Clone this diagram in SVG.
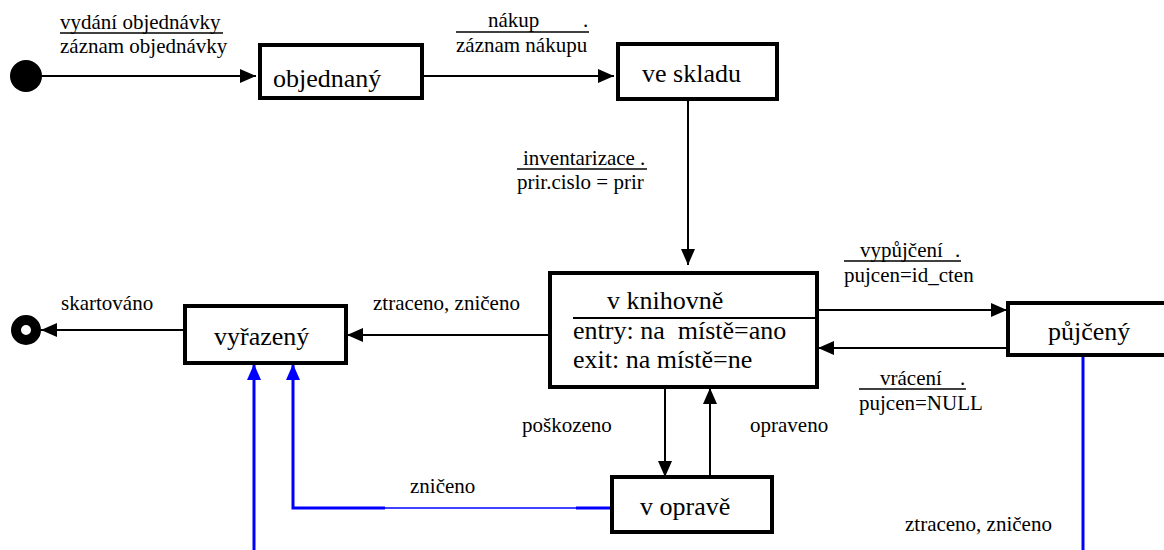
<svg xmlns="http://www.w3.org/2000/svg" width="1164" height="550" viewBox="0 0 1164 550">
  <style>
    .node { font-size: 26px; }
    .lbl { font-size: 21px; }
    .box { fill: #fff; stroke: #000; stroke-width: 4; }
    .edge { fill: none; stroke: #000; stroke-width: 2; }
    .blue { fill: none; stroke: #0000ff; stroke-width: 3; }
    .thin { fill: none; stroke: #0000ff; stroke-width: 1.5; }
    .ul { stroke: #000; stroke-width: 1.5; }
  </style>
  <defs>
    <marker id="arrow" markerUnits="userSpaceOnUse" markerWidth="16" markerHeight="14" refX="16" refY="7" orient="auto">
      <path d="M0,0 L16,7 L0,14 z" fill="#000"/>
    </marker>
    <marker id="arrowBlue" markerUnits="userSpaceOnUse" markerWidth="16" markerHeight="14" refX="16" refY="7" orient="auto">
      <path d="M0,0 L16,7 L0,14 z" fill="#0000ff"/>
    </marker>
  </defs>

  <rect width="1164" height="550" fill="#fff"/>

  <g font-family="'Liberation Serif', 'DejaVu Serif', serif" fill="#000">
  <!-- transitions -->
  <g id="connectors">
    <path class="edge" d="M42,76 H256" marker-end="url(#arrow)"/>
    <path class="edge" d="M422,76 H614" marker-end="url(#arrow)"/>
    <path class="edge" d="M688,99 V265" marker-end="url(#arrow)"/>
    <path class="edge" d="M550,335 H347" marker-end="url(#arrow)"/>
    <path class="edge" d="M185,330 H41" marker-end="url(#arrow)"/>
    <path class="edge" d="M817,310 H1007" marker-end="url(#arrow)"/>
    <path class="edge" d="M1007,348 H818" marker-end="url(#arrow)"/>
    <path class="edge" d="M665,387 V477" marker-end="url(#arrow)"/>
    <path class="edge" d="M710,477 V388" marker-end="url(#arrow)"/>
    <path class="blue" d="M254,550 V364" marker-end="url(#arrowBlue)"/>
    <path class="blue" d="M612,508 H576"/>
    <path class="thin" d="M576,508 H385"/>
    <path class="blue" d="M385,508 H293 V364" marker-end="url(#arrowBlue)"/>
    <path class="blue" d="M1083,355 V550"/>

    <!-- transition labels -->
    <text class="lbl" x="60" y="29">vydání objednávky</text>
    <line class="ul" x1="60" y1="33" x2="223" y2="33"/>
    <text class="lbl" x="60" y="53">záznam objednávky</text>

    <text class="lbl" x="488" y="27">nákup</text>
    <text class="lbl" x="583" y="27">.</text>
    <line class="ul" x1="456" y1="32" x2="589" y2="32"/>
    <text class="lbl" x="456" y="52">záznam nákupu</text>

    <text class="lbl" x="523" y="165">inventarizace</text>
    <text class="lbl" x="640" y="165">.</text>
    <line class="ul" x1="517" y1="169" x2="647" y2="169"/>
    <text class="lbl" x="517" y="189">prir.cislo = prir</text>

    <text class="lbl" x="373" y="310">ztraceno, zničeno</text>
    <text class="lbl" x="61" y="310">skartováno</text>

    <text class="lbl" x="860" y="257">vypůjčení</text>
    <text class="lbl" x="955" y="257">.</text>
    <line class="ul" x1="844" y1="261" x2="961" y2="261"/>
    <text class="lbl" x="844" y="282">pujcen=id_cten</text>

    <text class="lbl" x="880" y="385">vrácení</text>
    <text class="lbl" x="960" y="385">.</text>
    <line class="ul" x1="859" y1="389" x2="966" y2="389"/>
    <text class="lbl" x="859" y="410">pujcen=NULL</text>

    <text class="lbl" x="522" y="432">poškozeno</text>
    <text class="lbl" x="750" y="432">opraveno</text>
    <text class="lbl" x="410" y="493">zničeno</text>
    <text class="lbl" x="905" y="531">ztraceno, zničeno</text>
  </g>

  <!-- states -->
  <g id="start">
    <circle cx="26" cy="76" r="16" fill="#000"/>
  </g>
  <g id="end">
    <circle cx="26" cy="330" r="10" fill="#fff" stroke="#000" stroke-width="10"/>
  </g>
  <g id="objednany">
    <rect class="box" x="260" y="45" width="162" height="53"/>
    <text class="node" x="273" y="87">objednaný</text>
  </g>
  <g id="ve-skladu">
    <rect class="box" x="618" y="44" width="159" height="55"/>
    <text class="node" x="642" y="82">ve skladu</text>
  </g>
  <g id="v-knihovne">
    <rect class="box" x="550" y="273" width="267" height="114"/>
    <text class="node" x="607" y="309">v knihovně</text>
    <line x1="573" y1="318" x2="815" y2="318" stroke="#000" stroke-width="2"/>
    <text class="node" x="573" y="339" xml:space="preserve">entry: na  místě=ano</text>
    <text class="node" x="573" y="368">exit: na místě=ne</text>
  </g>
  <g id="vyrazeny">
    <rect class="box" x="185" y="306" width="161" height="57"/>
    <text class="node" x="214" y="345">vyřazený</text>
  </g>
  <g id="pujceny">
    <rect class="box" x="1008" y="303" width="170" height="52"/>
    <text class="node" x="1048" y="340">půjčený</text>
  </g>
  <g id="v-oprave">
    <rect class="box" x="612" y="477" width="160" height="55"/>
    <text class="node" x="640" y="515">v opravě</text>
  </g>
  </g>
</svg>
